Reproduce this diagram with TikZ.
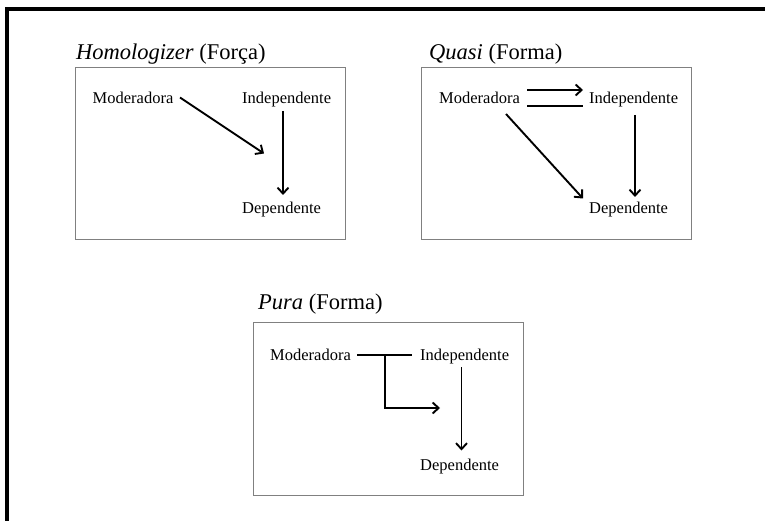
\documentclass[tikz,border=0pt]{standalone}
\usepackage{fontspec}
\setmainfont{Liberation Serif}
\usetikzlibrary{arrows.meta}
\begin{document}
\begin{tikzpicture}[x=1pt,y=-1pt,
  lbl/.style={anchor=base west,inner sep=0pt,font=\fontsize{16.5}{18}\selectfont},
  ttl/.style={anchor=base west,inner sep=0pt,font=\fontsize{22.5}{26}\selectfont},
  panel/.style={draw=black!50,line width=0.9pt},
  conn/.style={line width=1.9pt,line cap=butt},
  arr/.style={conn,-{Straight Barb[length=6pt,width=11pt,line width=1.9pt]}}]
\useasboundingbox (0,0) rectangle (765,521);
% outer frame (top and left edges)
\draw[line width=4pt] (7,521) -- (7,9) -- (765,9);

% ---- Homologizer (Forca)
\node[ttl] (t1) at (76,60) {\textit{Homologizer} (Força)};
\draw[panel] (75,67) rectangle (345,239);
\node[lbl] (m1) at (92.5,104) {Moderadora};
\node[lbl] (i1) at (242,104) {Independente};
\node[lbl] (d1) at (242,214) {Dependente};
\coordinate (m1s) at (180,97.5);
\coordinate (m1e) at (264,153.5);
\draw[arr] (m1s) -- (m1e);
\coordinate (i1s) at (283,111);
\coordinate (i1e) at (283,195);
\draw[arr] (i1s) -- (i1e);

% ---- Quasi (Forma)
\node[ttl] (t2) at (429,60) {\textit{Quasi} (Forma)};
\draw[panel] (421.5,67) rectangle (691.5,239);
\node[lbl] (m2) at (439,104) {Moderadora};
\node[lbl] (i2) at (589,104) {Independente};
\node[lbl] (d2) at (589,214) {Dependente};
\coordinate (q1s) at (527,90);
\coordinate (q1e) at (583,90);
\draw[arr] (q1s) -- (q1e);
\coordinate (q2s) at (527,106);
\coordinate (q2e) at (583,106);
\draw[conn] (q2s) -- (q2e);
\coordinate (q3s) at (506,114);
\coordinate (q3e) at (583,198.5);
\draw[arr] (q3s) -- (q3e);
\coordinate (q4s) at (635,115);
\coordinate (q4e) at (635,197);
\draw[arr] (q4s) -- (q4e);

% ---- Pura (Forma)
\node[ttl] (t3) at (258,309) {\textit{Pura} (Forma)};
\draw[panel] (253,322.5) rectangle (523,495);
\node[lbl] (m3) at (270,360) {Moderadora};
\node[lbl] (i3) at (420,360) {Independente};
\node[lbl] (d3) at (420,470) {Dependente};
\coordinate (p1s) at (357,355);
\coordinate (p1e) at (412,355);
\draw[conn] (p1s) -- (p1e);
\coordinate (p2s) at (385,355);
\coordinate (p2c) at (385,408);
\coordinate (p2e) at (440,408);
\draw[arr] (p2s) -- (p2c) -- (p2e);
\coordinate (p3s) at (461.5,367);
\coordinate (p3e) at (461.5,450.5);
\draw[arr] (p3s) -- (p3e);
\end{tikzpicture}
\end{document}
